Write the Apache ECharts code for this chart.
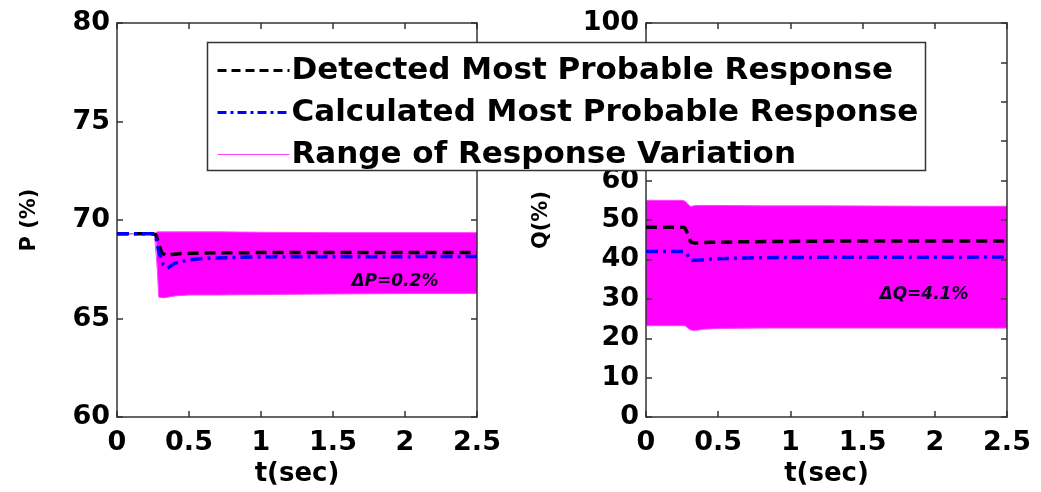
<!DOCTYPE html>
<html>
<head>
<meta charset="utf-8">
<script src="https://cdn.jsdelivr.net/npm/echarts@6/dist/echarts.min.js"></script>
<style>
  html, body { margin: 0; padding: 0; background: #fff; }
  #chart { width: 1041px; height: 492px; }
</style>
</head>
<body>
<div id="chart"></div>
<script>
// Time axis ticks (seconds) and value-axis ticks for both panels
const tTicks = [0, 0.5, 1, 1.5, 2, 2.5];
const pTicks = [60, 65, 70, 75, 80];
const qTicks = [0, 10, 20, 30, 40, 50, 60, 70, 80, 90, 100];

// Active power P (%)
const tDetP = [0, 0.25, 0.27, 0.29, 0.31, 0.34, 0.38, 0.45, 0.60, 1.00, 2.50];
const pDet  = [69.3, 69.3, 69.25, 68.8, 68.35, 68.18, 68.25, 68.3, 68.33, 68.35, 68.35];
const tCalP = [0, 0.25, 0.27, 0.29, 0.32, 0.35, 0.40, 0.50, 0.60, 0.80, 1.00, 2.50];
const pCal  = [69.3, 69.3, 69.2, 68.4, 67.75, 67.55, 67.8, 67.98, 68.05, 68.1, 68.13, 68.15];
const tBandP    = [0, 0.26, 0.27, 0.28, 0.29, 0.30, 0.32, 0.35, 0.40, 0.50, 0.70, 1.00, 1.50, 2.00, 2.50];
const pBandHigh = [69.3, 69.3, 69.35, 69.4, 69.4, 69.4, 69.4, 69.4, 69.4, 69.4, 69.4, 69.38, 69.36, 69.36, 69.36];
const pBandLow  = [69.3, 69.3, 69.3, 67.5, 66.1, 66.05, 66.05, 66.08, 66.15, 66.2, 66.2, 66.22, 66.25, 66.27, 66.27];

// Reactive power Q (%)
const tDetQ = [0, 0.25, 0.27, 0.29, 0.31, 0.34, 0.45, 0.70, 1.20, 2.50];
const qDet  = [48.2, 48.2, 48.0, 46.5, 44.4, 44.2, 44.35, 44.5, 44.65, 44.7];
const tCalQ = [0, 0.26, 0.28, 0.30, 0.32, 0.36, 0.45, 0.70, 1.20, 2.50];
const qCal  = [42.0, 42.0, 41.6, 40.3, 39.8, 39.8, 40.1, 40.4, 40.55, 40.6];
const tBandQ    = [0, 0.25, 0.27, 0.29, 0.31, 0.33, 0.36, 0.40, 0.50, 0.80, 1.20, 2.00, 2.50];
const qBandHigh = [55.0, 55.0, 54.8, 54.0, 53.4, 53.6, 53.7, 53.7, 53.7, 53.6, 53.6, 53.5, 53.5];
const qBandLow  = [23.2, 23.2, 23.2, 22.6, 22.1, 22.0, 22.1, 22.3, 22.5, 22.6, 22.6, 22.6, 22.6];

// Where the steady-state deviation notes sit (data coordinates)
const noteP = [1.93, 66.9];
const noteQ = [1.925, 31];

const NAME_DET = 'Detected Most Probable Response';
const NAME_CAL = 'Calculated Most Probable Response';
const NAME_RNG = 'Range of Response Variation';

const FONT = 'DejaVu Sans';
const zip = (xs, ys) => xs.map((x, i) => [x, ys[i]]);
const last = a => a[a.length - 1];

const deltaP = (last(pDet) - last(pCal)).toFixed(1);
const deltaQ = (last(qDet) - last(qCal)).toFixed(1);

const DASH_DET = [11, 6];
const DASH_CAL = [12, 5, 3, 5];

const axisLineStyle = { color: '#333', width: 1.5 };
const tickStyle = { show: true, inside: true, length: 6, lineStyle: { color: '#333', width: 1.5 } };
const labelStyle = { color: '#000', fontFamily: FONT, fontWeight: 'bold', fontSize: 27 };

function timeAxis(gridIndex, position, withLabels) {
  return {
    type: 'value', gridIndex, position,
    min: tTicks[0], max: last(tTicks), interval: tTicks[1] - tTicks[0],
    axisLine: { show: true, onZero: false, lineStyle: axisLineStyle },
    axisTick: tickStyle,
    axisLabel: Object.assign({ show: withLabels, margin: 12 }, labelStyle),
    splitLine: { show: false },
    name: withLabels ? 't(sec)' : '',
    nameLocation: 'middle', nameGap: 35,
    nameTextStyle: { color: '#000', fontFamily: FONT, fontWeight: 'bold', fontSize: 26 },
    z: 3
  };
}
function valueAxis(gridIndex, position, ticks, name, gap) {
  const withLabels = position === 'left';
  return {
    type: 'value', gridIndex, position,
    min: ticks[0], max: last(ticks), interval: ticks[1] - ticks[0],
    axisLine: { show: true, onZero: false, lineStyle: axisLineStyle },
    axisTick: tickStyle,
    axisLabel: Object.assign({ show: withLabels, margin: 7 }, labelStyle),
    splitLine: { show: false },
    name: withLabels ? name : '',
    nameLocation: 'middle', nameGap: gap,
    nameTextStyle: { color: '#000', fontFamily: FONT, fontWeight: 'bold', fontSize: 21 },
    z: 3
  };
}

function bandSeries(xi, yi, ts, hi, lo) {
  return {
    type: 'custom', xAxisIndex: xi, yAxisIndex: yi, silent: true, z: 1,
    data: [[ts[0], lo[0]]],
    renderItem: (params, api) => {
      const top = ts.map((t, i) => api.coord([t, hi[i]]));
      const bottom = ts.map((t, i) => api.coord([t, lo[i]])).reverse();
      return { type: 'polygon', shape: { points: top.concat(bottom) }, style: { fill: '#ff00ff' } };
    }
  };
}
function edgeSeries(xi, yi, ts, vs) {
  return {
    name: NAME_RNG, type: 'line', xAxisIndex: xi, yAxisIndex: yi, silent: true,
    symbol: 'none', z: 1, color: '#ff40ff',
    lineStyle: { color: '#ff40ff', width: 1 },
    data: zip(ts, vs)
  };
}
function detSeries(xi, yi, ts, vs, note, text) {
  return {
    name: NAME_DET, type: 'line', xAxisIndex: xi, yAxisIndex: yi, symbol: 'none', z: 4,
    color: '#000',
    lineStyle: { color: '#000', width: 3.5, type: DASH_DET },
    data: zip(ts, vs),
    markPoint: {
      symbol: 'circle', symbolSize: 0, silent: true,
      itemStyle: { color: 'transparent' },
      label: { show: true, position: 'inside', formatter: text, color: '#0a0020',
               fontFamily: FONT, fontWeight: 'bold', fontStyle: 'italic', fontSize: 17 },
      data: [{ coord: note }]
    }
  };
}
function calSeries(xi, yi, ts, vs) {
  return {
    name: NAME_CAL, type: 'line', xAxisIndex: xi, yAxisIndex: yi, symbol: 'none', z: 5,
    color: '#0000ff',
    lineStyle: { color: '#0000ff', width: 3.5, type: DASH_CAL },
    data: zip(ts, vs)
  };
}

const chart = echarts.init(document.getElementById('chart'));
chart.setOption({
  animation: false,
  backgroundColor: '#fff',
  grid: [
    { left: 117, top: 23, width: 360, height: 400 },
    { left: 646, top: 23, width: 361, height: 400 }
  ],
  xAxis: [
    timeAxis(0, 'bottom', true), timeAxis(0, 'top', false),
    timeAxis(1, 'bottom', true), timeAxis(1, 'top', false)
  ],
  yAxis: [
    valueAxis(0, 'left', pTicks, 'P (%)', 77), valueAxis(0, 'right', pTicks, '', 0),
    valueAxis(1, 'left', qTicks, 'Q(%)', 94), valueAxis(1, 'right', qTicks, '', 0)
  ],
  legend: {
    data: [
      { name: NAME_DET, lineStyle: { width: 3, type: [9, 5] } },
      { name: NAME_CAL, lineStyle: { width: 3, type: [9, 4, 3, 4] } },
      { name: NAME_RNG, lineStyle: { width: 1.2 } }
    ],
    orient: 'vertical', left: 216, top: 55, padding: 0,
    itemWidth: 72, itemHeight: 20, itemGap: 11,
    selectedMode: false, z: 110,
    itemStyle: { opacity: 0 },
    textStyle: { color: '#000', fontFamily: FONT, fontWeight: 'bold', fontSize: 31, lineHeight: 30, padding: [0, 0, 0, -3] }
  },
  graphic: [{
    type: 'rect', z: 100, silent: true,
    shape: { x: 207.5, y: 42.5, width: 718, height: 128 },
    style: { fill: '#fff', stroke: '#333', lineWidth: 1.5 }
  }],
  series: [
    bandSeries(0, 0, tBandP, pBandHigh, pBandLow),
    edgeSeries(0, 0, tBandP, pBandHigh),
    edgeSeries(0, 0, tBandP, pBandLow),
    detSeries(0, 0, tDetP, pDet, noteP, '\u0394P=' + deltaP + '%'),
    calSeries(0, 0, tCalP, pCal),
    bandSeries(2, 2, tBandQ, qBandHigh, qBandLow),
    edgeSeries(2, 2, tBandQ, qBandHigh),
    edgeSeries(2, 2, tBandQ, qBandLow),
    detSeries(2, 2, tDetQ, qDet, noteQ, '\u0394Q=' + deltaQ + '%'),
    calSeries(2, 2, tCalQ, qCal)
  ]
});
</script>
</body>
</html>
